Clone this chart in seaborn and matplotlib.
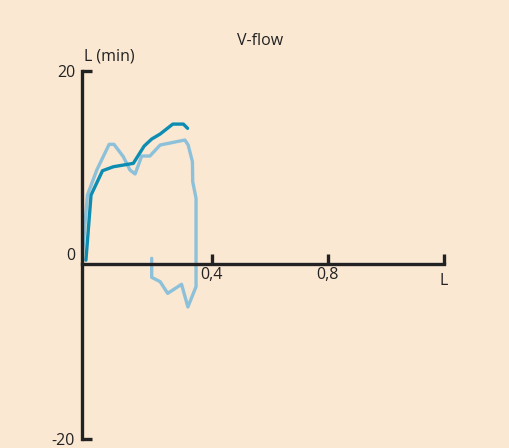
import numpy as np
import pandas as pd
import matplotlib
matplotlib.use("Agg")
import matplotlib.pyplot as plt
import seaborn as sns

# dark series
dark_x = [0.013, 0.030, 0.068, 0.104, 0.170, 0.206, 0.231, 0.259, 0.301, 0.336, 0.350]
dark_y = [0.4, 7.15, 9.67, 10.08, 10.43, 12.22, 12.95, 13.47, 14.5, 14.5, 14.06]

# light series (loop)
light_x = [0.002, 0.018, 0.049, 0.090, 0.106, 0.137, 0.159, 0.176, 0.198, 0.225,
           0.259, 0.341, 0.352, 0.366, 0.367, 0.378, 0.378, 0.351, 0.330, 0.284,
           0.259, 0.231, 0.231]
light_y = [1.11, 7.15, 9.74, 12.40, 12.40, 11.12, 9.74, 9.33, 11.19, 11.19,
           12.33, 12.85, 12.33, 10.60, 8.53, 6.81, -2.35, -4.45, -2.10, -3.04,
           -1.83, -1.38, 0.59]

x_ticks = [0.43, 0.815, 1.2]
x_tick_labels = ["0,4", "0,8", ""]
y_ticks = [-18.13, 20]
y_tick_labels = ["-20", "20"]

bg = "#fae8d3"
dark_c = "#0e8db3"
light_c = "#8dc1da"
ink = "#222222"
fs = 11.5

sns.set_style("white")
plt.rcParams["font.family"] = ["Open Sans", "DejaVu Sans"]

fig = plt.figure(figsize=(5.09, 4.48), dpi=100, facecolor=bg)
ax = fig.add_axes([82 / 509, 9 / 448, 362 / 509, 368 / 448])
ax.set_facecolor(bg)

df_light = pd.DataFrame({"x": light_x, "y": light_y})
df_dark = pd.DataFrame({"x": dark_x, "y": dark_y})
sns.lineplot(data=df_light, x="x", y="y", sort=False, estimator=None,
             color=light_c, lw=2.4, ax=ax)
sns.lineplot(data=df_dark, x="x", y="y", sort=False, estimator=None,
             color=dark_c, lw=2.4, ax=ax)

ax.set_xlim(0, 1.2)
ax.set_ylim(-18.13, 20)
for s in ["top", "right"]:
    ax.spines[s].set_visible(False)
ax.spines["bottom"].set_position(("data", 0))
for s in ["left", "bottom"]:
    ax.spines[s].set_linewidth(2.4)
    ax.spines[s].set_color(ink)
    ax.spines[s].set_capstyle("projecting")

ax.set_xticks(x_ticks)
ax.set_xticklabels(x_tick_labels)
ax.set_yticks(y_ticks)
ax.set_yticklabels(y_tick_labels)
ax.tick_params(axis="x", bottom=True, direction="in", length=7, width=2.4, color=ink,
               labelsize=fs, labelcolor=ink, pad=2)
ax.tick_params(axis="y", left=True, direction="in", length=7, width=2.4, color=ink,
               labelsize=fs, labelcolor=ink, pad=5)
ax.set_xlabel("")
ax.set_ylabel("")

ax.text(-0.022, 0.8, "0", ha="right", va="center", fontsize=fs, color=ink)
ax.text(1.2, -1.8, "L", ha="center", va="center", fontsize=fs, color=ink)
ax.text(0.008, 21.5, "L (min)", ha="left", va="center", fontsize=fs, color=ink,
        clip_on=False)
ax.text(0.59, 23.1, "V-flow", ha="center", va="center", fontsize=fs, color=ink,
        clip_on=False)

fig.savefig("out.png", dpi=100, facecolor=bg)
